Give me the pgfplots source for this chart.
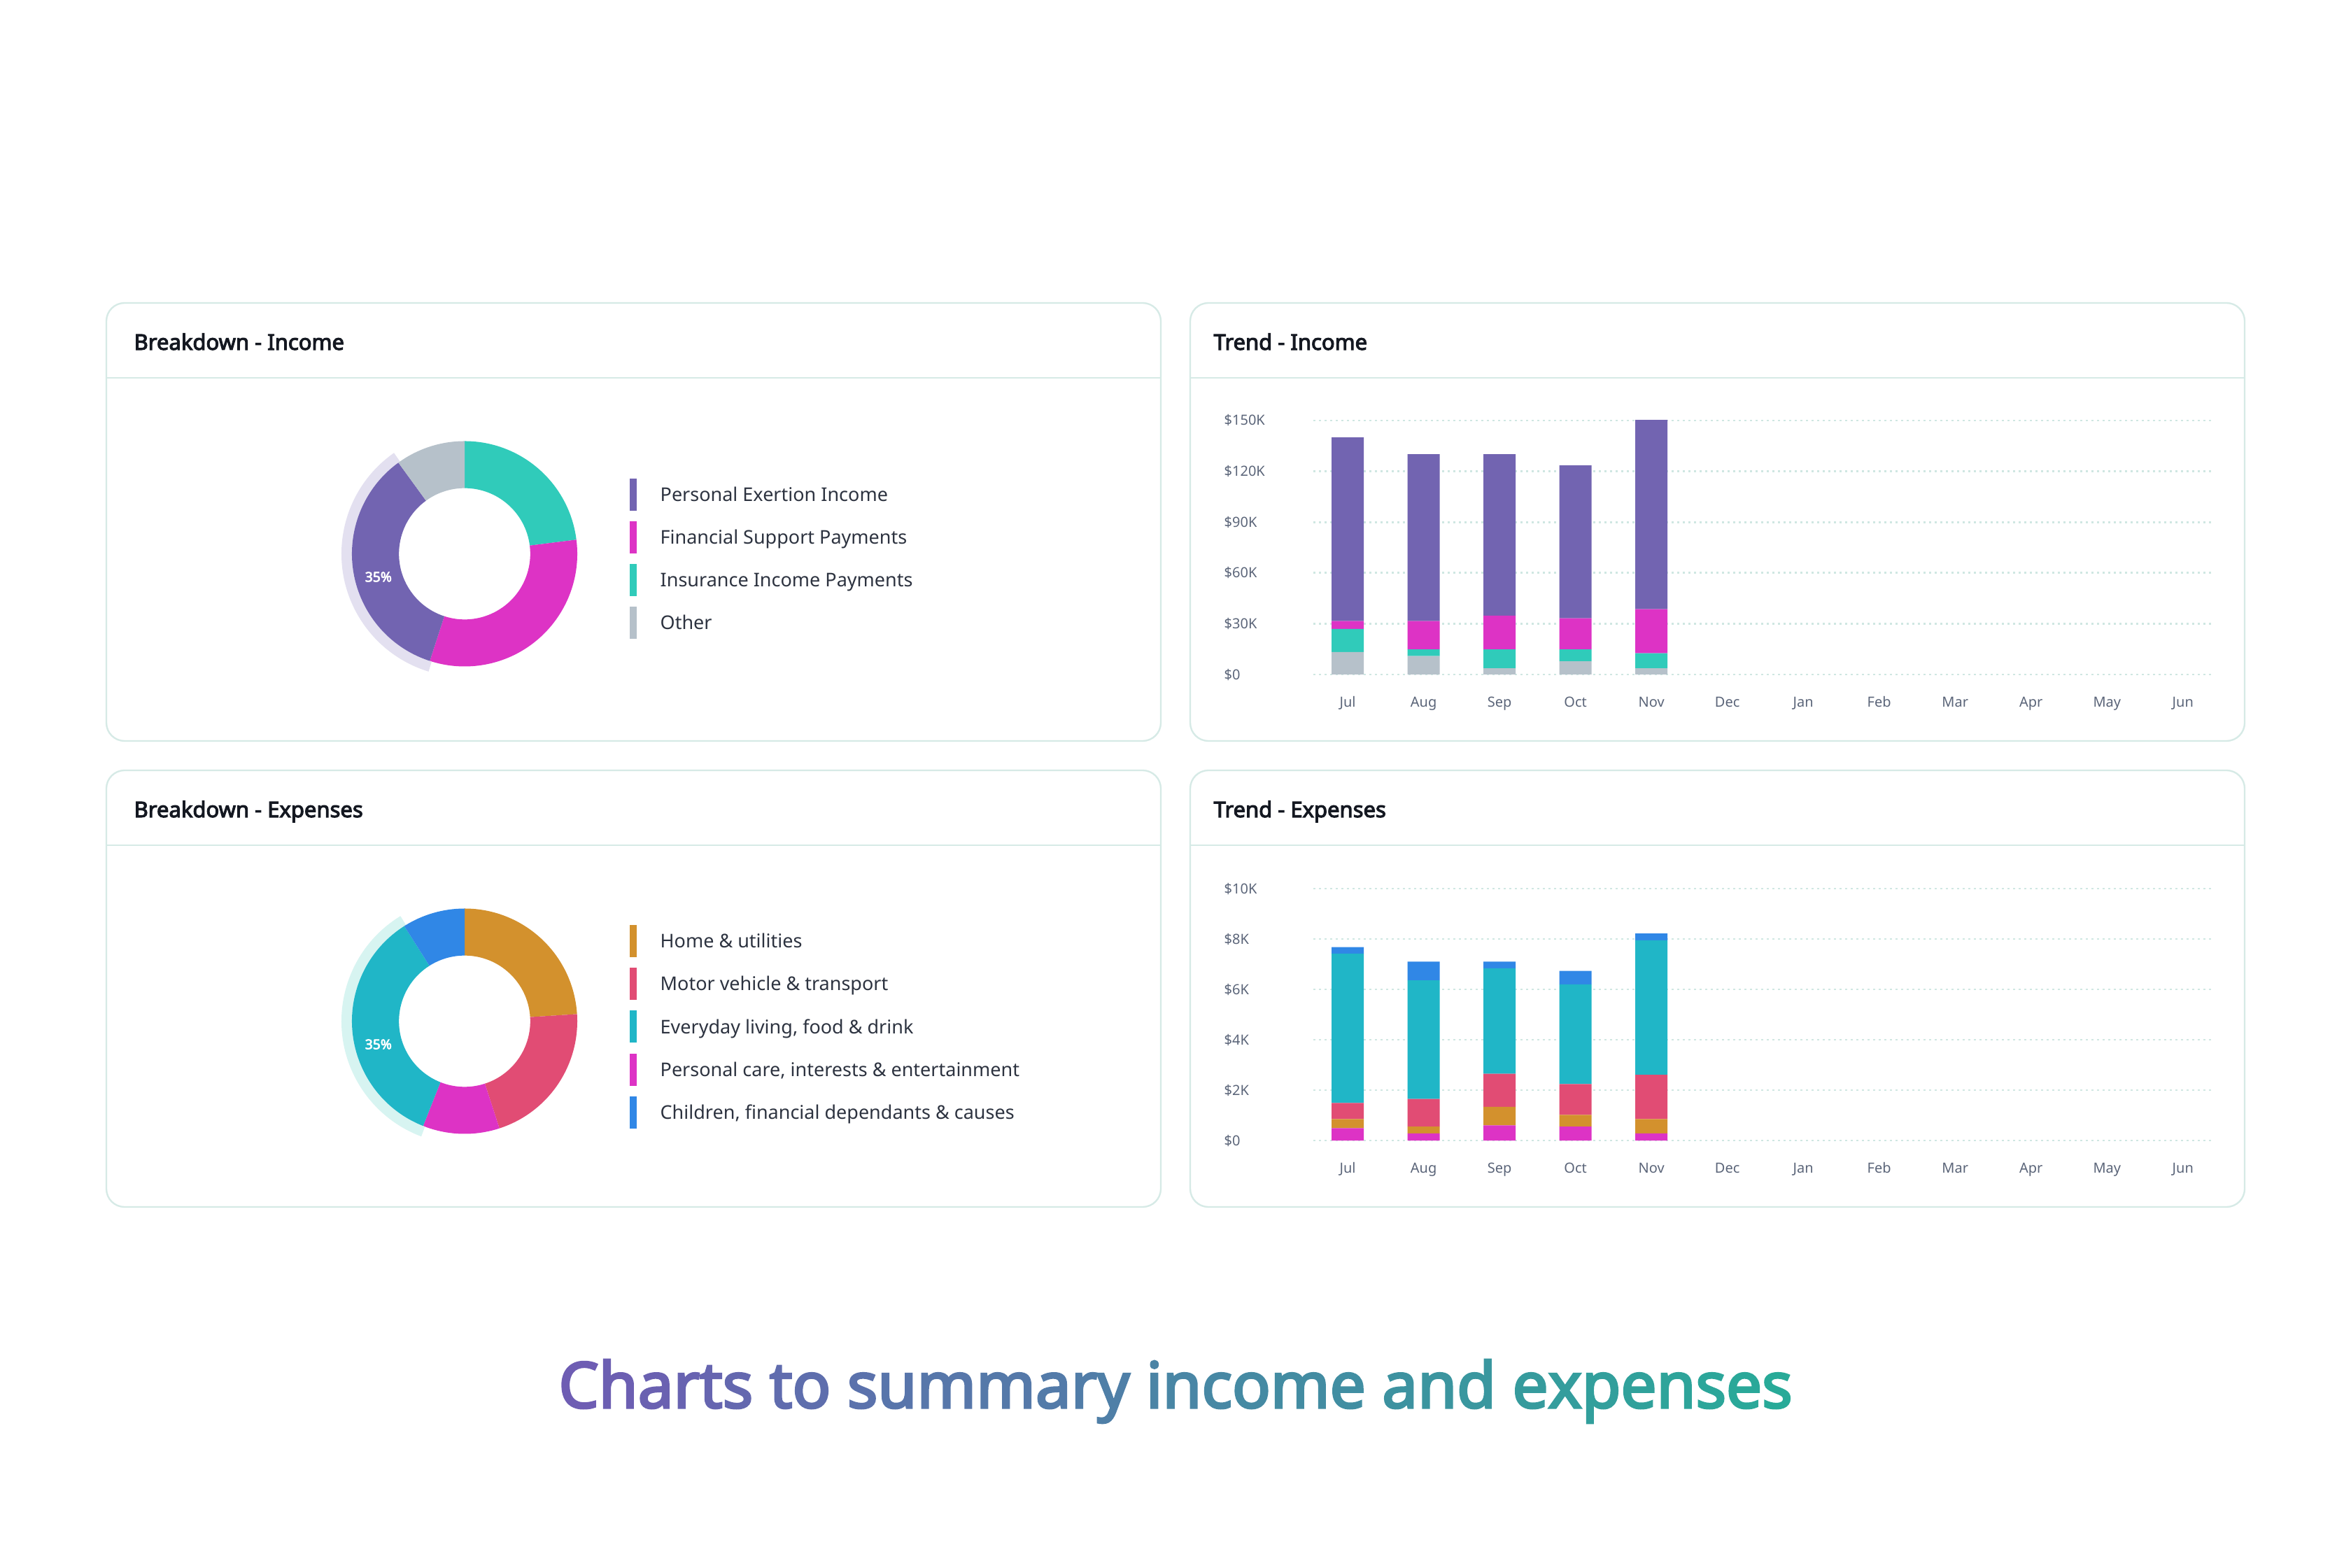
\documentclass[border=0pt]{standalone}
\usepackage{fontspec}
\setmainfont{Noto Sans}[AutoFakeBold=3.5]
\usepackage{pgfplots}
\usepackage{pgfplotstable}
\pgfplotsset{compat=1.18}

% palette
\definecolor{cPurple}{HTML}{7264B1}
\definecolor{cMagenta}{HTML}{DD33C5}
\definecolor{cTealI}{HTML}{30CBBA}
\definecolor{cGrey}{HTML}{B6C1CA}
\definecolor{cOrange}{HTML}{D3912D}
\definecolor{cRed}{HTML}{E14C74}
\definecolor{cCyan}{HTML}{20B6C7}
\definecolor{cBlue}{HTML}{3087E6}
\definecolor{cHiPurple}{HTML}{E3E0F0}
\definecolor{cHiTeal}{HTML}{D7F4F1}
\definecolor{cBorder}{HTML}{D6EAE6}
\definecolor{cGrid}{HTML}{CFE7E2}
\definecolor{cTick}{HTML}{5B6579}
\definecolor{cText}{HTML}{2D3340}
\definecolor{cHead}{HTML}{141821}
\definecolor{ttlA}{HTML}{6E5DB3}
\definecolor{ttlB}{HTML}{28AA98}

% monthly income, $K, stacked bottom to top
\pgfplotstableread{
month other insurance support exertion
0 13.3 13.6 4.7 108.4
1 10.9 3.9 16.8 98.5
2 3.7 11.1 20.0 95.3
3 7.8 7.0 18.4 90.3
4 3.7 8.8 26.1 111.8
}\incomedata

% monthly expenses, $K, stacked bottom to top
\pgfplotstableread{
month care home motor living children
0 0.49 0.36 0.64 5.93 0.26
1 0.28 0.27 1.10 4.71 0.74
2 0.60 0.74 1.31 4.19 0.26
3 0.55 0.47 1.22 3.96 0.53
4 0.28 0.57 1.76 5.34 0.27
}\expensedata

% income shares (%), clockwise from 12 o'clock: insurance, support, exertion, other
\pgfplotstableread{
share
23
32
35
10
}\incomeshare

% expense shares (%), clockwise from 12 o'clock: home, motor, care, living, children
\pgfplotstableread{
share
24
21
11
35
9
}\expenseshare

\def\Ro{48.3}
\def\Ri{28.15}
\def\Rh{52.8}

% #1 table, #2 colours, #3 highlighted slice, #4 highlight colour
\newcommand\drawdonut[4]{%
  \gdef\acc{0}%
  \foreach \col [count=\k from 0] in {#2}{%
    \pgfplotstablegetelem{\k}{share}\of{#1}%
    \let\val\pgfplotsretval
    \pgfmathsetmacro\sa{90-\acc*3.6}%
    \pgfmathsetmacro\newacc{\acc+\val}%
    \pgfmathsetmacro\sb{90-\newacc*3.6}%
    \ifnum\k=#3\relax
      \pgfmathsetmacro\ha{\sa+1}%
      \pgfmathsetmacro\hb{\sb-1}%
      \fill[#4] ({\Ro*cos(\ha)},{\Ro*sin(\ha)}) arc[start angle=\ha,end angle=\hb,radius=\Ro pt]
        -- ({\Rh*cos(\hb)},{\Rh*sin(\hb)}) arc[start angle=\hb,end angle=\ha,radius=\Rh pt] -- cycle;
      \pgfmathtruncatemacro\pct{\val}%
      \xdef\donutpct{\pct}%
    \fi
    \fill[\col] ({\Ro*cos(\sa)},{\Ro*sin(\sa)}) arc[start angle=\sa,end angle=\sb,radius=\Ro pt]
      -- ({\Ri*cos(\sb)},{\Ri*sin(\sb)}) arc[start angle=\sb,end angle=\sa,radius=\Ri pt] -- cycle;
    \xdef\acc{\newacc}%
  }%
  \node[text=white, inner sep=0pt, font=\bfseries\fontsize{5.8}{6}\selectfont]
    at ({38.25*cos(195)},{38.25*sin(195)}) {\donutpct\%};
}

\newcommand\gl[2]{\pgfmathsetmacro\glp{#1*100/36}\textcolor{ttlB!\glp!ttlA}{#2}}

\pgfplotsset{
  donut/.style={hide axis, scale only axis, width=120pt, height=120pt,
    xmin=-60, xmax=60, ymin=-60, ymax=60, anchor=center, clip=false},
  trend/.style={scale only axis, width=385.2pt, anchor=south west,
    xmin=-0.452, xmax=11.38, ymin=0, enlargelimits=false, clip=false,
    ybar stacked, bar width=13.8pt,
    axis line style={draw=none}, major tick length=0pt,
    tick style={draw=none},
    ymajorgrids, grid style={cGrid, line width=0.8pt, dash pattern=on 0.8pt off 1.6pt},
    xtick={0,...,11},
    xticklabels={Jul,Aug,Sep,Oct,Nov,Dec,Jan,Feb,Mar,Apr,May,Jun},
    xticklabel style={anchor=base, yshift=-14pt, inner sep=0pt, text=cTick,
      font=\fontsize{6}{7}\selectfont},
    yticklabel style={anchor=west, xshift=-38.4pt, inner sep=0pt, text=cTick,
      font=\fontsize{6}{7}\selectfont},
  },
}

\newcommand\card[4]{% x0 x1 ytop ybottom (pt)
  \draw[cBorder, line width=0.7pt, rounded corners=7.8pt] (#1pt,#4pt) rectangle (#2pt,#3pt);
  \draw[cBorder, line width=0.7pt] (#1pt,{#3pt-32.1pt}) -- (#2pt,{#3pt-32.1pt});
}

\begin{document}
\begin{tikzpicture}
\fill[white] (0,0) rectangle (1008pt,672pt);
\path[use as bounding box] (0,0) rectangle (1008pt,672pt);

% cards
\card{45.6}{497.7}{542.1}{354.3}
\card{510.3}{962.4}{542.1}{354.3}
\card{45.6}{497.7}{341.7}{154.5}
\card{510.3}{962.4}{341.7}{154.5}

\begin{scope}[every node/.style={anchor=base west, inner sep=0pt, text=cHead,
    font=\bfseries\fontsize{9.3}{10}\selectfont}]
\node at (57.3pt,522.0pt) {Breakdown - Income};
\node at (520.2pt,522.0pt) {Trend - Income};
\node at (57.3pt,321.6pt) {Breakdown - Expenses};
\node at (520.2pt,321.6pt) {Trend - Expenses};
\end{scope}

% income donut
\begin{axis}[donut, at={(199.2pt,434.55pt)}]
\pgfplotsextra{\drawdonut{\incomeshare}{cTealI,cMagenta,cPurple,cGrey}{2}{cHiPurple}}
\end{axis}

% expense donut
\begin{axis}[donut, at={(199.2pt,234.15pt)}]
\pgfplotsextra{\drawdonut{\expenseshare}{cOrange,cRed,cMagenta,cCyan,cBlue}{3}{cHiTeal}}
\end{axis}

% legends
\foreach \nm/\col [count=\k from 0] in {Personal Exertion Income/cPurple,
    Financial Support Payments/cMagenta, Insurance Income Payments/cTealI, Other/cGrey}{
  \pgfmathsetmacro\yy{459.9-18.3*\k}
  \fill[\col] (270pt,{\yy pt-6.9pt}) rectangle (273pt,{\yy pt+6.9pt});
  \node[anchor=base west, inner sep=0pt, text=cText, font=\fontsize{8.1}{10}\selectfont]
    at (282.9pt,{\yy pt-2.9pt}) {\nm};
}
\foreach \nm/\col [count=\k from 0] in {Home \& utilities/cOrange,
    Motor vehicle \& transport/cRed, {Everyday living, food \& drink}/cCyan,
    {Personal care, interests \& entertainment}/cMagenta,
    {Children, financial dependants \& causes}/cBlue}{
  \pgfmathsetmacro\yy{268.5-18.375*\k}
  \fill[\col] (270pt,{\yy pt-6.9pt}) rectangle (273pt,{\yy pt+6.9pt});
  \node[anchor=base west, inner sep=0pt, text=cText, font=\fontsize{8.1}{10}\selectfont]
    at (282.9pt,{\yy pt-2.9pt}) {\nm};
}

% income trend
\begin{axis}[trend, at={(563.1pt,382.8pt)}, height=108.9pt, ymax=150,
    ytick={0,30,60,90,120,150},
    yticklabels={\$0,\$30K,\$60K,\$90K,\$120K,\$150K}]
\addplot[fill=cGrey, draw=none] table[x=month, y=other] {\incomedata};
\addplot[fill=cTealI, draw=none] table[x=month, y=insurance] {\incomedata};
\addplot[fill=cMagenta, draw=none] table[x=month, y=support] {\incomedata};
\addplot[fill=cPurple, draw=none] table[x=month, y=exertion] {\incomedata};
\end{axis}

% expense trend
\begin{axis}[trend, at={(563.1pt,183pt)}, height=108pt, ymax=10,
    ytick={0,2,4,6,8,10},
    yticklabels={\$0,\$2K,\$4K,\$6K,\$8K,\$10K}]
\addplot[fill=cMagenta, draw=none] table[x=month, y=care] {\expensedata};
\addplot[fill=cOrange, draw=none] table[x=month, y=home] {\expensedata};
\addplot[fill=cRed, draw=none] table[x=month, y=motor] {\expensedata};
\addplot[fill=cCyan, draw=none] table[x=month, y=living] {\expensedata};
\addplot[fill=cBlue, draw=none] table[x=month, y=children] {\expensedata};
\end{axis}

% headline
\node[anchor=base, inner sep=0pt, font=\bfseries\fontsize{27.2}{30}\selectfont] at (504pt,68.4pt)
  {\gl{0}{C}\gl{1}{h}\gl{2}{a}\gl{3}{r}\gl{4}{t}\gl{5}{s} \gl{7}{t}\gl{8}{o} \gl{10}{s}\gl{11}{u}\gl{12}{m}\gl{13}{m}\gl{14}{a}\gl{15}{r}\gl{16}{y} \gl{18}{i}\gl{19}{n}\gl{20}{c}\gl{21}{o}\gl{22}{m}\gl{23}{e} \gl{25}{a}\gl{26}{n}\gl{27}{d} \gl{29}{e}\gl{30}{x}\gl{31}{p}\gl{32}{e}\gl{33}{n}\gl{34}{s}\gl{35}{e}\gl{36}{s}};
\end{tikzpicture}
\end{document}
